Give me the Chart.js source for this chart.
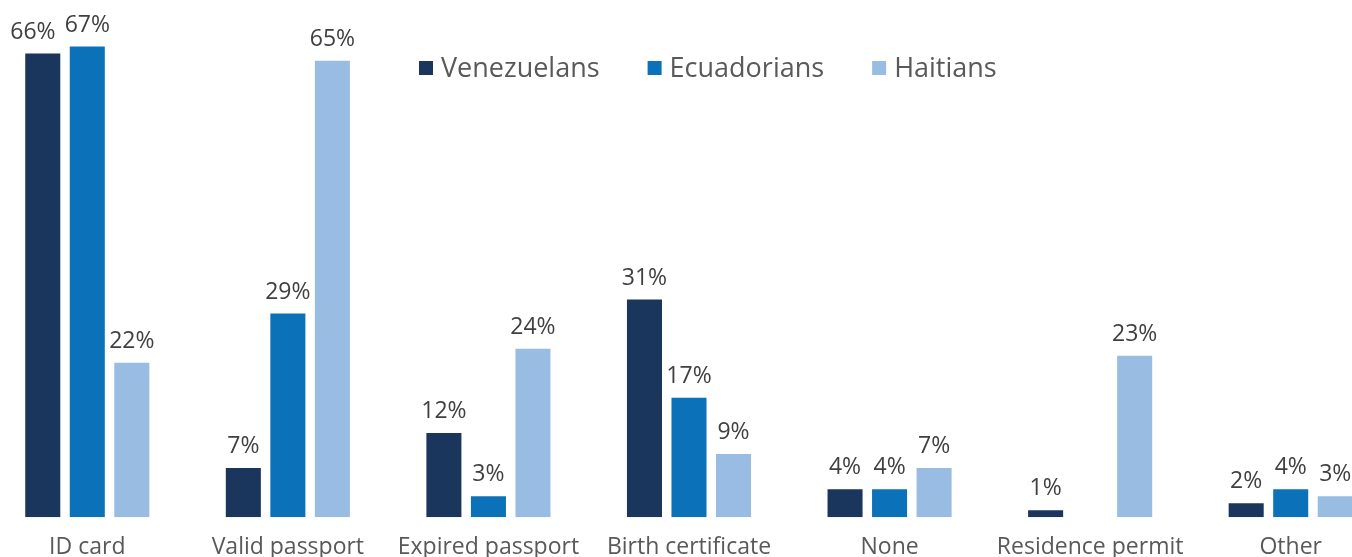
<!DOCTYPE html>
<html>
<head>
<meta charset="utf-8">
<script src="https://cdn.jsdelivr.net/npm/chart.js@4.4.1/dist/chart.umd.min.js"></script>
<style>
  html, body { margin: 0; padding: 0; background: #fff; overflow: hidden; }
  body { width: 1352px; height: 557px; position: relative; }
  #wrap { position: absolute; left: -13px; top: 0; width: 1404px; height: 557px; }
</style>
</head>
<body>
<div id="wrap"><canvas id="docs"></canvas></div>
<script>
"use strict";

// categories and series values (percent)
var categories = ["ID card", "Valid passport", "Expired passport", "Birth certificate", "None", "Residence permit", "Other"];
var seriesNames = ["Venezuelans", "Ecuadorians", "Haitians"];
var venezuelans = [66, 7, 12, 31, 4, 1, 2];
var ecuadorians = [67, 29, 3, 17, 4, null, 4];
var haitians = [22, 65, 24, 9, 7, 23, 3];
var seriesColors = ["#1b365d", "#0b72b9", "#98bce2"];

var FONT = "'Open Sans', sans-serif";

// percent labels above each bar
var barLabels = {
    id: "barLabels",
    afterDatasetsDraw: function(chart) {
        var ctx = chart.ctx;
        var n = chart.data.datasets.length;
        ctx.save();
        ctx.font = "23px " + FONT;
        ctx.fillStyle = "#404040";
        ctx.textAlign = "center";
        ctx.textBaseline = "alphabetic";
        chart.data.labels.forEach(function(lbl, j) {
            // walk right to left so a label can step aside from its neighbour
            var nextLeft = null, nextY = null;
            for (var i = n - 1; i >= 0; i--) {
                var v = chart.data.datasets[i].data[j];
                if (v === null || v === undefined) continue;
                var bar = chart.getDatasetMeta(i).data[j];
                var txt = v + "%";
                var w = ctx.measureText(txt).width;
                var x = bar.x;
                if (nextLeft !== null && Math.abs(nextY - bar.y) < 25 && x + w / 2 > nextLeft - 9) {
                    x = nextLeft - 9 - w / 2;
                }
                ctx.fillText(txt, x, bar.y - 15);
                nextLeft = x - w / 2;
                nextY = bar.y;
            }
        });
        ctx.restore();
    }
};

// legend drawn inside the plot, as in the original
var topLegend = {
    id: "topLegend",
    afterDraw: function(chart) {
        var ctx = chart.ctx;
        ctx.save();
        ctx.font = "27px " + FONT;
        ctx.textBaseline = "middle";
        var x = 419 + 13, y = 61;
        chart.data.datasets.forEach(function(ds) {
            ctx.fillStyle = ds.backgroundColor;
            ctx.fillRect(x, y, 14, 14);
            ctx.fillStyle = "#595959";
            ctx.fillText(ds.label, x + 22, y + 8);
            x += 22 + ctx.measureText(ds.label).width + 48;
        });
        ctx.restore();
    }
};

var datasets = [venezuelans, ecuadorians, haitians].map(function(vals, i) {
    return {
        label: seriesNames[i],
        data: vals,
        backgroundColor: seriesColors[i],
        borderWidth: 0,
        categoryPercentage: 0.666,
        barPercentage: 0.787
    };
});

new Chart(document.getElementById("docs"), {
    type: "bar",
    data: { labels: categories, datasets: datasets },
    options: {
        responsive: true,
        maintainAspectRatio: false,
        animation: false,
        layout: { padding: { top: 25.5, left: 0, right: 0, bottom: 0 } },
        plugins: {
            legend: { display: false },
            tooltip: { enabled: false }
        },
        scales: {
            x: {
                grid: { display: false },
                border: { display: false },
                ticks: {
                    color: "#58595b",
                    padding: 8,
                    font: { family: FONT, size: 23, lineHeight: 1.2 }
                },
                afterFit: function(scale) { scale.height = 39.7; }
            },
            y: {
                display: false,
                min: 0,
                max: 70
            }
        }
    },
    plugins: [barLabels, topLegend]
});
</script>
</body>
</html>
